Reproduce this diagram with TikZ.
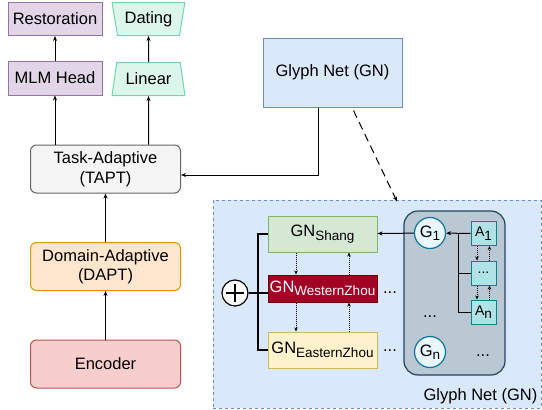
\documentclass[tikz,border=0pt]{standalone}
\usepackage{fontspec}
\setmainfont{Liberation Sans}
\usetikzlibrary{arrows.meta,shapes.geometric}
\definecolor{purpfill}{HTML}{E1D5E7}\definecolor{purpline}{HTML}{9673A6}
\definecolor{mintfill}{HTML}{DDF6EC}\definecolor{mintline}{HTML}{6FD6AF}
\definecolor{grayfill}{HTML}{F5F5F5}\definecolor{grayline}{HTML}{666666}
\definecolor{orgfill}{HTML}{FFE6CC}\definecolor{orgline}{HTML}{D79B00}
\definecolor{redfill}{HTML}{F8CECC}\definecolor{redline}{HTML}{B85450}
\definecolor{bluefill}{HTML}{DAE8FC}\definecolor{blueline}{HTML}{6C8EBF}
\definecolor{grnfill}{HTML}{D5E8D4}\definecolor{grnline}{HTML}{82B366}
\definecolor{wzfill}{HTML}{A20025}\definecolor{wzline}{HTML}{6F0000}
\definecolor{ylwfill}{HTML}{FFF2CC}\definecolor{ylwline}{HTML}{D6B656}
\definecolor{slatefill}{HTML}{BAC8D3}\definecolor{slateline}{HTML}{23445D}
\definecolor{gfill}{HTML}{E8F7FD}\definecolor{gline}{HTML}{10739E}
\definecolor{afill}{HTML}{B0E3E6}\definecolor{aline}{HTML}{0E8088}
\newcommand{\gsub}[1]{\raisebox{-3.5pt}{\fontsize{13.5}{15}\selectfont #1}}

\begin{document}
\begin{tikzpicture}[x=1pt,y=-1pt,
    every node/.style={font=\fontsize{16.5}{19.5}\selectfont,align=center,inner sep=1pt},
    box/.style={draw,line width=1pt},
    rbox/.style={box,rounded corners=6pt,minimum width=150pt,minimum height=48pt},
    trap/.style={box,trapezium,trapezium stretches=true,trapezium left angle=76,
        trapezium right angle=76,minimum width=73pt,minimum height=33pt,fill=mintfill,draw=mintline},
    era/.style={box,minimum width=109pt,minimum height=36pt},
    abox/.style={box,fill=afill,draw=aline,minimum width=25pt,minimum height=24pt,
        font=\fontsize{14}{16}\selectfont},
    gcirc/.style={box,circle,fill=gfill,draw=gline,minimum size=31pt,line width=1.2pt},
    arr/.style={line width=1pt,->,>={Stealth[length=5pt,width=4pt]}},
    dotarr/.style={line width=1pt,densely dotted,->,>={Stealth[length=4pt,width=3.5pt]}},
    tline/.style={line width=1.5pt}]
  \useasboundingbox (0,0) rectangle (542,410);
  % left column
  \node[box,fill=purpfill,draw=purpline,minimum width=94pt,minimum height=33pt] (rest) at (55,19) {Restoration};
  \node[trap,shape border rotate=180] (dating) at (148.5,19) {Dating};
  \node[box,fill=purpfill,draw=purpline,minimum width=94pt,minimum height=34pt] (mlm) at (55,78) {MLM Head};
  \node[trap] (linear) at (148.5,79) {Linear};
  \node[rbox,fill=grayfill,draw=grayline] (tapt) at (105.5,169) {Task-Adaptive\\(TAPT)};
  \node[rbox,fill=orgfill,draw=orgline] (dapt) at (105.5,266.5) {Domain-Adaptive\\(DAPT)};
  \node[rbox,fill=redfill,draw=redline] (enc) at (105.5,364) {Encoder};
  \draw[arr] (enc) -- (dapt);
  \draw[arr] (dapt) -- (tapt);
  \draw[arr] (tapt.north -| mlm) -- (mlm);
  \draw[arr] (tapt.north -| linear) -- (linear);
  \draw[arr] (mlm) -- (rest);
  \draw[arr] (linear) -- (dating);
  % glyph net
  \node[box,fill=bluefill,draw=blueline,minimum width=139pt,minimum height=69pt] (gn) at (332.5,72.5) {Glyph Net (GN)};
  \draw[arr] ([xshift=-14.5pt]gn.south) |- ([yshift=-6pt]tapt.east);
  \node[box,dashed,fill=bluefill,draw=blueline,minimum width=328pt,minimum height=208pt] (gnbig) at (377,304) {};
  \node[anchor=south east,inner sep=4pt] (gnlabel) at (gnbig.south east) {Glyph Net (GN)};
  \draw[arr,dash pattern=on 8pt off 5pt] ([xshift=21pt,yshift=-3pt]gn.south) -- ([xshift=20pt,yshift=-2pt]gnbig.north);
  % eras
  \node[era,fill=grnfill,draw=grnline] (shang) at (322.5,234) {GN\gsub{Shang}};
  \node[era,fill=wzfill,draw=wzline,text=white,minimum height=27pt] (wz) at (322.5,288.5) {GN\gsub{WesternZhou}};
  \node[era,fill=ylwfill,draw=ylwline] (ez) at (322.5,350) {GN\gsub{EasternZhou}};
  \draw[dotarr] ([xshift=-26.5pt]shang.south) -- ([xshift=-26.5pt]wz.north);
  \draw[dotarr] ([xshift=26.5pt]wz.north) -- ([xshift=26.5pt]shang.south);
  \draw[dotarr] ([xshift=-26.5pt]wz.south) -- ([xshift=-26.5pt]ez.north);
  \draw[dotarr] ([xshift=26.5pt]ez.north) -- ([xshift=26.5pt]wz.south);
  \node (wzdots) at (390,293) {...};
  \node (ezdots) at (390,351) {...};
  % sum
  \node[circle,draw,fill=white,line width=1.2pt,minimum size=26pt] (sum) at (235,293) {};
  \draw[line width=1.2pt] ([yshift=-9pt]sum.center) -- ([yshift=9pt]sum.center)
    ([xshift=-9pt]sum.center) -- ([xshift=9pt]sum.center);
  \coordinate (bus) at (258,293);
  \draw[tline] (sum) -- (bus);
  \draw[tline] (bus) -- (wz.west |- bus);
  \draw[tline] (shang.west) -| (bus) |- (ez.west);
  % glyph container
  \node[box,rounded corners=14pt,fill=slatefill,draw=slateline,line width=1.2pt,minimum width=101pt,minimum height=164pt] (gcont) at (454.5,293) {};
  \node[gcirc] (g1) at (430,233) {G\gsub{1}};
  \node[gcirc] (gn1) at (430,352) {G\gsub{n}};
  \node (gdots) at (430,317) {...};
  \node (gdots2) at (483,356) {...};
  \node[abox] (a1) at (483.5,233.5) {A\gsub{1}};
  \node[abox] (adots) at (483.5,273) {...};
  \node[abox] (an) at (483.5,312) {A\gsub{n}};
  \draw[arr] (g1) -- (shang);
  \coordinate (abus) at (458,233);
  \draw[arr] (a1) -- (g1);
  \draw[line width=1pt] (adots.west) -| (abus);
  \draw[line width=1pt] (an.west) -| (abus);
  \draw[dotarr] ([xshift=-6.5pt]a1.south) -- ([xshift=-6.5pt]adots.north);
  \draw[dotarr] ([xshift=6pt]adots.north) -- ([xshift=6pt]a1.south);
  \draw[dotarr] ([xshift=-6.5pt]adots.south) -- ([xshift=-6.5pt]an.north);
  \draw[dotarr] ([xshift=6pt]an.north) -- ([xshift=6pt]adots.south);
\end{tikzpicture}
\end{document}
